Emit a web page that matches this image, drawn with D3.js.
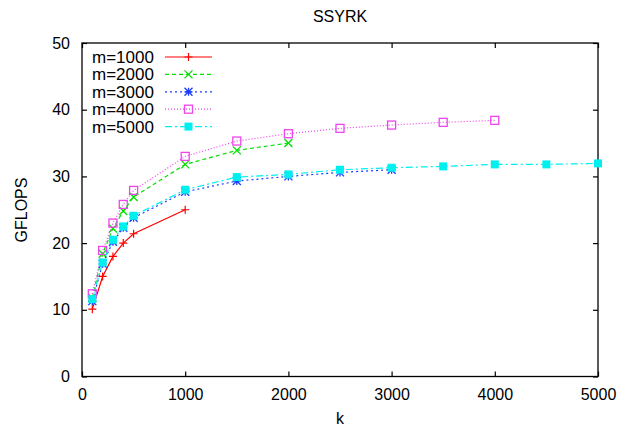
<!DOCTYPE html>
<html><head><meta charset="utf-8">
<script src="https://cdn.jsdelivr.net/npm/d3@7"></script>
<style>body{margin:0;background:#fff}svg{display:block}text{font-family:"Liberation Sans",Arial,Helvetica,sans-serif}</style>
</head><body>
<svg id="c" width="634" height="430"></svg>
<script>
const title = "SSYRK";
const xLabel = "k";
const yLabel = "GFLOPS";
const xTicks = [0, 1000, 2000, 3000, 4000, 5000];
const yTicks = [0, 10, 20, 30, 40, 50];
const seriesNames = ["m=1000", "m=2000", "m=3000", "m=4000", "m=5000"];
const k1000 = [100, 200, 300, 400, 500, 1000];
const g1000 = [10.1, 15.0, 18.0, 20.0, 21.4, 25.0];
const k2000 = [100, 200, 300, 400, 500, 1000, 1500, 2000];
const g2000 = [11.8, 18.4, 22.2, 24.8, 26.9, 31.8, 33.9, 35.0];
const k3000 = [100, 200, 300, 400, 500, 1000, 1500, 2000, 2500, 3000];
const g3000 = [11.3, 16.9, 20.2, 22.3, 23.8, 27.7, 29.3, 30.0, 30.6, 31.0];
const k4000 = [100, 200, 300, 400, 500, 1000, 1500, 2000, 2500, 3000, 3500, 4000];
const g4000 = [12.4, 18.9, 23.0, 25.8, 27.9, 33.0, 35.3, 36.4, 37.2, 37.7, 38.1, 38.4];
const k5000 = [100, 200, 300, 400, 500, 1000, 1500, 2000, 2500, 3000, 3500, 4000, 4500, 5000];
const g5000 = [11.6, 17.1, 20.5, 22.5, 24.1, 28.0, 29.9, 30.3, 31.0, 31.3, 31.5, 31.8, 31.8, 31.95];

const series = [
  {name: seriesNames[0], k: k1000, g: g1000, color: "#ff0000", dash: null, marker: "plus"},
  {name: seriesNames[1], k: k2000, g: g2000, color: "#00e000", dash: "4,3", marker: "cross"},
  {name: seriesNames[2], k: k3000, g: g3000, color: "#1a3cff", dash: "2,3", marker: "star"},
  {name: seriesNames[3], k: k4000, g: g4000, color: "#ee44ee", dash: "1,2", marker: "box"},
  {name: seriesNames[4], k: k5000, g: g5000, color: "#00f0f0", dash: "7,3,2,3", marker: "fbox"}
];

const L = 82, R = 598, T = 43, B = 376.5;
const svg = d3.select("#c");
const x = d3.scaleLinear().domain([0, 5000]).range([L, R]);
const y = d3.scaleLinear().domain([0, 50]).range([B, T]);

svg.append("rect").attr("x", L).attr("y", T).attr("width", R - L).attr("height", B - T)
  .attr("fill", "none").attr("stroke", "#000").attr("stroke-width", 1.3);

const tl = 5;
const xb = svg.append("g").attr("transform", `translate(0,${B})`)
  .call(d3.axisBottom(x).tickValues(xTicks).tickSizeInner(-tl).tickSizeOuter(0).tickPadding(12).tickFormat(d3.format("d")));
const xt = svg.append("g").attr("transform", `translate(0,${T})`)
  .call(d3.axisTop(x).tickValues(xTicks).tickSizeInner(-tl).tickSizeOuter(0).tickFormat(""));
const yl = svg.append("g").attr("transform", `translate(${L},0)`)
  .call(d3.axisLeft(y).tickValues(yTicks).tickSizeInner(-tl).tickSizeOuter(0).tickPadding(12).tickFormat(d3.format("d")));
const yr = svg.append("g").attr("transform", `translate(${R},0)`)
  .call(d3.axisRight(y).tickValues(yTicks).tickSizeInner(-tl).tickSizeOuter(0).tickFormat(""));
[xb, xt, yl, yr].forEach(g => {
  g.select(".domain").remove();
  g.selectAll("line").attr("stroke", "#000").attr("stroke-width", 1.2);
  g.selectAll("text").attr("fill", "#000").style("font-size", "16px").style("font-family", '"Liberation Sans",Arial,sans-serif');
});

svg.append("text").attr("x", (L + R) / 2).attr("y", 22).attr("text-anchor", "middle").style("font-size", "16px").text(title);
svg.append("text").attr("x", (L + R) / 2).attr("y", 424).attr("text-anchor", "middle").style("font-size", "16px").text(xLabel);
svg.append("text").attr("transform", `translate(27,210) rotate(-90)`).attr("text-anchor", "middle").style("font-size", "16px").text(yLabel);

function drawMarker(g, type, cx, cy, color) {
  const s = 4;
  if (type === "plus") {
    g.append("path").attr("d", `M${cx - s},${cy}H${cx + s}M${cx},${cy - s}V${cy + s}`).attr("stroke", color).attr("stroke-width", 1.2).attr("fill", "none");
  } else if (type === "cross") {
    g.append("path").attr("d", `M${cx - s},${cy - s}L${cx + s},${cy + s}M${cx - s},${cy + s}L${cx + s},${cy - s}`).attr("stroke", color).attr("stroke-width", 1.3).attr("fill", "none");
  } else if (type === "star") {
    g.append("path").attr("d", `M${cx - s},${cy}H${cx + s}M${cx},${cy - s}V${cy + s}M${cx - s},${cy - s}L${cx + s},${cy + s}M${cx - s},${cy + s}L${cx + s},${cy - s}`).attr("stroke", color).attr("stroke-width", 1.3).attr("fill", "none");
  } else if (type === "box") {
    g.append("rect").attr("x", cx - s).attr("y", cy - s).attr("width", 2 * s).attr("height", 2 * s).attr("stroke", color).attr("stroke-width", 1.3).attr("fill", "none");
  } else if (type === "fbox") {
    g.append("rect").attr("x", cx - s).attr("y", cy - s).attr("width", 2 * s).attr("height", 2 * s).attr("fill", color);
  }
}

const line = d3.line().x(d => x(d[0])).y(d => y(d[1]));
series.forEach(s => {
  const pts = s.k.map((k, i) => [k, s.g[i]]);
  const g = svg.append("g");
  g.append("path").attr("d", line(pts)).attr("fill", "none").attr("stroke", s.color)
    .attr("stroke-width", 1.2).attr("stroke-dasharray", s.dash);
  pts.forEach(p => drawMarker(g, s.marker, x(p[0]), y(p[1]), s.color));
});

const legY0 = 57, legDy = 17.4;
series.forEach((s, i) => {
  const yy = legY0 + i * legDy;
  svg.append("text").attr("x", 92).attr("y", yy).attr("dy", "0.35em").style("font-size", "17px").text(s.name);
  const g = svg.append("g");
  g.append("line").attr("x1", 165).attr("x2", 212).attr("y1", yy).attr("y2", yy)
    .attr("stroke", s.color).attr("stroke-width", 1.2).attr("stroke-dasharray", s.dash);
  drawMarker(g, s.marker, 188.5, yy, s.color);
});
</script>
</body></html>
